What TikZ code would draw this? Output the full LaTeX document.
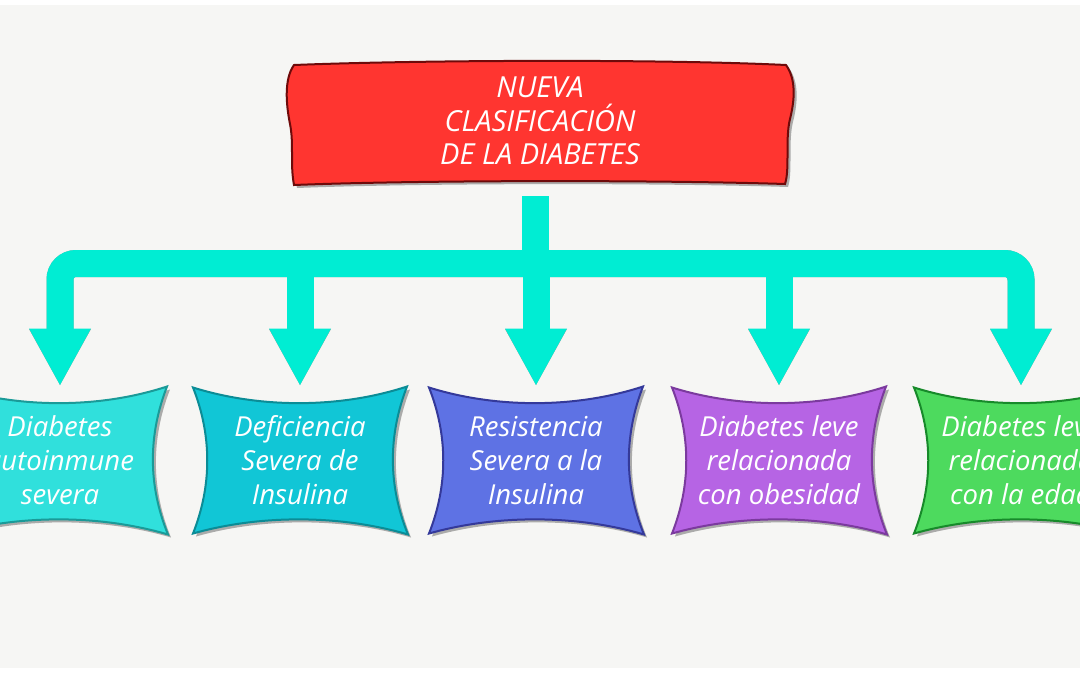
\documentclass[tikz,border=0pt]{standalone}
\usepackage{fontspec}
\setmainfont{Open Sans}
\usetikzlibrary{calc,shadows}
\definecolor{bgc}{HTML}{F6F6F4}
\definecolor{conncol}{HTML}{00EDD3}
\definecolor{redfill}{HTML}{FF3530}
\definecolor{reddraw}{HTML}{6E0A0A}
\definecolor{c1fill}{HTML}{30E0DC}\definecolor{c1draw}{HTML}{1A9A98}
\definecolor{c2fill}{HTML}{11C6D6}\definecolor{c2draw}{HTML}{0B8C96}
\definecolor{c3fill}{HTML}{5E72E4}\definecolor{c3draw}{HTML}{34399A}
\definecolor{c4fill}{HTML}{B664E4}\definecolor{c4draw}{HTML}{7B3A9E}
\definecolor{c5fill}{HTML}{4DDA5E}\definecolor{c5draw}{HTML}{178A2A}
\newcommand\cvbox[3]{%
  \begin{scope}[shift={(#1.center)}]
    \filldraw[fill=#2, draw=#3, line width=2pt, shapeshadow]
      (-107,-73) .. controls (-40,-52) and (40,-52) .. (107,-74)
      .. controls (88,-25) and (88,25) .. (108,74)
      .. controls (40,54) and (-40,54) .. (-107,73)
      .. controls (-88,25) and (-88,-25) .. (-107,-73) -- cycle;
  \end{scope}}
\begin{document}
\begin{tikzpicture}[x=1pt,y=-1pt,
  frm/.style={inner sep=0pt, outer sep=0pt},
  shapeshadow/.style={drop shadow={shadow xshift=3pt, shadow yshift=-3pt, opacity=.3, fill=black}},
  conn/.style={draw=conncol, line width=27pt, line cap=butt},
  connshadow/.style={draw=black, opacity=.35, line width=27pt, line cap=butt, shift={(3,3)}},
  headshadow/.style={fill=black, opacity=.35, shift={(3,3)}},
  head/.style={fill=conncol},
  titletext/.style={text=white, align=center, font=\fontsize{29}{33.5}\selectfont\itshape},
  boxtext/.style={text=white, align=center, font=\fontsize{27.5}{34}\selectfont\itshape}]
\useasboundingbox (0,0) rectangle (1080,675);
\clip (0,0) rectangle (1080,675);
\fill[white] (0,0) rectangle (1080,675);
\fill[bgc] (0,5) rectangle (1080,668);
% frame nodes
\node[frm, minimum width=494pt, minimum height=122pt] (t) at (540,124) {};
\node[frm, minimum width=214pt, minimum height=147pt] (b1) at (60,460.5) {};
\node[frm, minimum width=214pt, minimum height=147pt] (b2) at (300,460.5) {};
\node[frm, minimum width=214pt, minimum height=147pt] (b3) at (536,460.5) {};
\node[frm, minimum width=214pt, minimum height=147pt] (b4) at (779,460.5) {};
\node[frm, minimum width=214pt, minimum height=147pt] (b5) at (1021,460.5) {};
\coordinate (bar) at (0,263.5);
\coordinate (ah) at (0,329);
\coordinate (s0) at ($(t.south)+(-5,11)$);
% title banner
\begin{scope}[shift={(t.center)}]
  \filldraw[fill=redfill, draw=reddraw, line width=2pt, shapeshadow]
    (-246,-59) .. controls (-120,-64) and (120,-65) .. (246,-59)
    .. controls (256,-45) and (255,-25) .. (250,-5)
    .. controls (245,15) and (250,45) .. (245,60)
    .. controls (120,56) and (-120,56) .. (-246,61)
    .. controls (-250,40) and (-246,20) .. (-250,0)
    .. controls (-254,-20) and (-256,-45) .. (-246,-59) -- cycle;
\end{scope}
% connectors: shadows
\draw[connshadow] (s0) -- (s0 |- bar);
\draw[connshadow, rounded corners=16pt] (b1.north |- ah) -- (b1.north |- bar) -- (b5.north |- bar) -- (b5.north |- ah);
\foreach \b in {b2,b3,b4}{\draw[connshadow] (\b.north |- bar) -- (\b.north |- ah);}
\foreach \b in {b1,b2,b3,b4,b5}{\fill[headshadow] ($(\b.north)+(-31,-58)$) -- ($(\b.north)+(31,-58)$) -- ($(\b.north)+(0,-2)$) -- cycle;}
% connectors
\draw[conn] (s0) -- (s0 |- bar);
\draw[conn, rounded corners=16pt] (b1.north |- ah) -- (b1.north |- bar) -- (b5.north |- bar) -- (b5.north |- ah);
\foreach \b in {b2,b3,b4}{\draw[conn] (\b.north |- bar) -- (\b.north |- ah);}
\foreach \b in {b1,b2,b3,b4,b5}{\fill[head] ($(\b.north)+(-31,-58.5)$) -- ($(\b.north)+(31,-58.5)$) -- ($(\b.north)+(0,-2)$) -- cycle;}
% boxes
\cvbox{b1}{c1fill}{c1draw}
\cvbox{b2}{c2fill}{c2draw}
\cvbox{b3}{c3fill}{c3draw}
\cvbox{b4}{c4fill}{c4draw}
\cvbox{b5}{c5fill}{c5draw}
% texts
\node[titletext] (tt) at ($(t.center)+(0,-3)$) {NUEVA\\CLASIFICACIÓN\\DE LA DIABETES};
\node[boxtext] (b1t) at (b1.center) {Diabetes\\autoinmune\\severa};
\node[boxtext] (b2t) at (b2.center) {Deficiencia\\Severa de\\Insulina};
\node[boxtext] (b3t) at (b3.center) {Resistencia\\Severa a la\\Insulina};
\node[boxtext] (b4t) at (b4.center) {Diabetes leve\\relacionada\\con obesidad};
\node[boxtext] (b5t) at (b5.center) {Diabetes leve\\relacionada\\con la edad};
\end{tikzpicture}
\end{document}
